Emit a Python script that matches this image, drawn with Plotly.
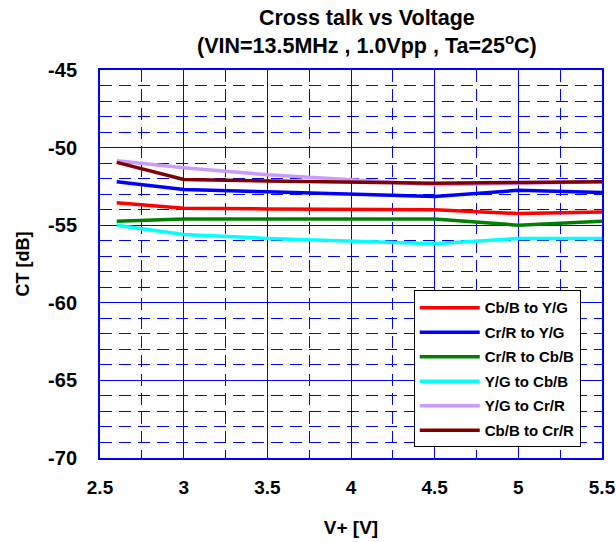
import plotly.graph_objects as go

# supply voltage [V]
V_PLUS = [2.6, 3.0, 3.5, 4.0, 4.5, 5.0, 5.5]

# crosstalk [dB]
CB_TO_YG = [-53.55, -53.9, -53.95, -53.97, -54.0, -54.25, -54.15]
CR_TO_YG = [-52.2, -52.7, -52.85, -53.0, -53.15, -52.75, -52.9]
CR_TO_CB = [-54.75, -54.6, -54.6, -54.6, -54.6, -55.0, -54.75]
YG_TO_CB = [-55.0, -55.6, -55.85, -56.05, -56.2, -55.85, -55.85]
YG_TO_CR = [-50.85, -51.3, -51.75, -52.1, -52.4, -52.3, -52.2]
CB_TO_CR = [-50.95, -52.05, -52.15, -52.25, -52.3, -52.25, -52.2]

SERIES = [
    ("Cb/B to Y/G", CB_TO_YG, "#FF0000"),
    ("Cr/R to Y/G", CR_TO_YG, "#0000FF"),
    ("Cr/R to Cb/B", CR_TO_CB, "#008000"),
    ("Y/G to Cb/B", YG_TO_CB, "#00FFFF"),
    ("Y/G to Cr/R", YG_TO_CR, "#CC99FF"),
    ("Cb/B to Cr/R", CB_TO_CR, "#800000"),
]

# tick labels (plain hyphen minus like the original)
X_TICKS = [2.5, 3, 3.5, 4, 4.5, 5, 5.5]
X_LABELS = ["2.5", "3", "3.5", "4", "4.5", "5", "5.5"]
Y_TICKS = [-70, -65, -60, -55, -50, -45]
Y_LABELS = ["-70", "-65", "-60", "-55", "-50", "-45"]

FONT = "Liberation Sans, Arial, sans-serif"
GRID = "#0000FF"
DASH = "12px,7px"

fig = go.Figure()
for i, (name, vals, color) in enumerate(SERIES):
    fig.add_trace(go.Scatter(
        x=V_PLUS, y=vals, name=f"<b>{name}</b>", mode="lines",
        legendgroup=f"g{i}",
        line=dict(color=color, width=3.5),
    ))

fig.update_layout(
    width=616, height=542,
    margin=dict(l=100, r=14, t=70, b=84, autoexpand=False),
    paper_bgcolor="white", plot_bgcolor="white",
    font=dict(family=FONT, color="black", size=19),
    legend=dict(
        x=0.625, y=0.432, xanchor="left", yanchor="top",
        bgcolor="white", bordercolor="black", borderwidth=1,
        font=dict(size=15),
        tracegroupgap=2, itemwidth=60,
    ),
    annotations=[dict(
        text="<b>Cross talk vs Voltage<br>(VIN=13.5MHz , 1.0Vpp , Ta=25<sup>o</sup>C)</b>",
        xref="paper", yref="paper", x=0.532, y=1.098,
        xanchor="center", yanchor="middle", showarrow=False,
        font=dict(size=21.5),
    )],
)

fig.update_xaxes(
    range=[2.5, 5.5], tickvals=X_TICKS, ticktext=[f"<b>{t}</b>" for t in X_LABELS],
    showline=True, linecolor=GRID, linewidth=2, mirror=True,
    showgrid=True, gridcolor=GRID, gridwidth=1,
    zeroline=False, ticks="", ticklabelstandoff=11, automargin=False,
    tickfont=dict(size=19),
    minor=dict(dtick=0.25, tick0=2.5, showgrid=True, gridcolor=GRID, griddash=DASH, gridwidth=1),
    title=dict(text="<b>V+ [V]</b>", font=dict(size=19), standoff=24),
)
fig.update_yaxes(
    range=[-70, -45], tickvals=Y_TICKS, ticktext=[f"<b>{t}</b>" for t in Y_LABELS],
    showline=True, linecolor=GRID, linewidth=2, mirror=True,
    showgrid=True, gridcolor=GRID, gridwidth=1,
    zeroline=False, ticks="", ticklabelstandoff=17, automargin=False,
    tickfont=dict(size=20),
    minor=dict(dtick=1, tick0=-70, showgrid=True, gridcolor=GRID, griddash=DASH, gridwidth=1),
    title=dict(text="<b>CT [dB]</b>", font=dict(size=18), standoff=14),
)

# drop the default 8px body margin so the figure sits flush in the window
fig.write_html(
    "out.html",
    config={"displayModeBar": False},
    post_script="document.body.style.margin = '0';",
)
